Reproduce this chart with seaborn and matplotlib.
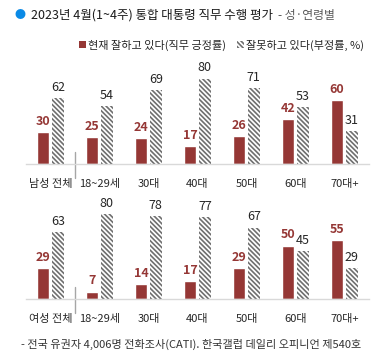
import numpy as np
import pandas as pd
import matplotlib
matplotlib.use("Agg")
import matplotlib.pyplot as plt
from matplotlib.patches import Patch
import seaborn as sns

# data
male_groups = ["남성 전체", "18~29세", "30대", "40대", "50대", "60대", "70대+"]
male_pos = [30, 25, 24, 17, 26, 42, 60]
male_neg = [62, 54, 69, 80, 71, 53, 31]

female_groups = ["여성 전체", "18~29세", "30대", "40대", "50대", "60대", "70대+"]
female_pos = [29, 7, 14, 17, 29, 50, 55]
female_neg = [63, 80, 78, 77, 67, 45, 29]

POS = "현재 잘하고 있다(직무 긍정률)"
NEG = "잘못하고 있다(부정률, %)"

RED = "#953735"
HATCH_GRAY = "#6f6f6f"
AXIS_GRAY = "#d9d9d9"
HATCH = "\\" * 7

sns.set_style("white")
plt.rcParams["font.family"] = ["Noto Sans CJK KR", "DejaVu Sans"]
plt.rcParams["hatch.linewidth"] = 1.2


def draw_panel(ax, groups, pos, neg):
    df = pd.DataFrame({
        "group": groups * 2,
        "kind": [POS] * len(groups) + [NEG] * len(groups),
        "value": pos + neg,
    })
    sns.barplot(data=df, x="group", y="value", hue="kind", order=groups,
                hue_order=[POS, NEG], palette=[RED, "white"], saturation=1,
                width=0.6, gap=0.2, legend=False, ax=ax)

    for bar in ax.containers[1]:
        bar.set_hatch(HATCH)
        bar.set_edgecolor(HATCH_GRAY)
        bar.set_linewidth(0)

    ax.bar_label(ax.containers[0], labels=[str(v) for v in pos], padding=3,
                 color=RED, fontsize=9, fontweight="bold")
    ax.bar_label(ax.containers[1], labels=[str(v) for v in neg], padding=3,
                 color="#262626", fontsize=9)

    ax.set_ylim(0, 90)
    ax.set_xlim(-0.5, len(groups) - 0.5)
    ax.set_xlabel("")
    ax.set_ylabel("")
    ax.set_yticks([])
    ax.set_xticks(range(len(groups)))
    ax.set_xticklabels(groups, fontsize=8, color="#262626")
    ax.tick_params(axis="x", which="major", length=0, pad=11)
    minor = [b for b in np.arange(-0.5, len(groups), 1.0) if abs(b - 0.5) > 0.01]
    ax.set_xticks(minor, minor=True)
    ax.tick_params(axis="x", which="minor", length=4, width=1, color=AXIS_GRAY)
    for side in ["top", "right", "left"]:
        ax.spines[side].set_visible(False)
    ax.spines["bottom"].set_color(AXIS_GRAY)
    ax.spines["bottom"].set_linewidth(1)
    ax.axvline(0.5, ymin=-0.15, ymax=0.12, color="#a6a6a6", lw=1, clip_on=False)


fig = plt.figure(figsize=(3.8, 3.64), dpi=100)
ax_top = fig.add_axes([26 / 380, (364 - 164) / 364, 343 / 380, 96 / 364])
ax_bot = fig.add_axes([26 / 380, (364 - 299) / 364, 343 / 380, 96 / 364])

draw_panel(ax_top, male_groups, male_pos, male_neg)
draw_panel(ax_bot, female_groups, female_pos, female_neg)

# title
fig.text(20 / 380, 1 - 15 / 364, "●", color="#0a8ae6", fontsize=8,
         ha="center", va="center")
title = fig.text(31 / 380, 1 - 15 / 364, "2023년 4월(1~4주) 통합 대통령 직무 수행 평가",
                 fontsize=9, color="#1a1a1a", va="center")
fig.canvas.draw()
bb = title.get_window_extent()
fig.text((bb.x1 + 5) / 380, 1 - 15 / 364, "- 성·연령별", fontsize=8.5,
         color="#595959", va="center")

# legend
handles = [Patch(facecolor=RED, edgecolor=RED, linewidth=0),
           Patch(facecolor="white", edgecolor=HATCH_GRAY, hatch=HATCH, linewidth=0)]
fig.legend(handles, [POS, NEG], loc="center right",
           bbox_to_anchor=(0.985, 1 - 45 / 364), ncol=2, frameon=False,
           handlelength=0.6, handleheight=0.6, handletextpad=0.2,
           columnspacing=1.0, prop={"size": 8})

# footer
fig.text(21 / 380, 1 - 344 / 364,
         "- 전국 유권자 4,006명 전화조사(CATI). 한국갤럽 데일리 오피니언 제540호",
         fontsize=8, color="#333333", va="center")

fig.savefig("out.png", dpi=100)
